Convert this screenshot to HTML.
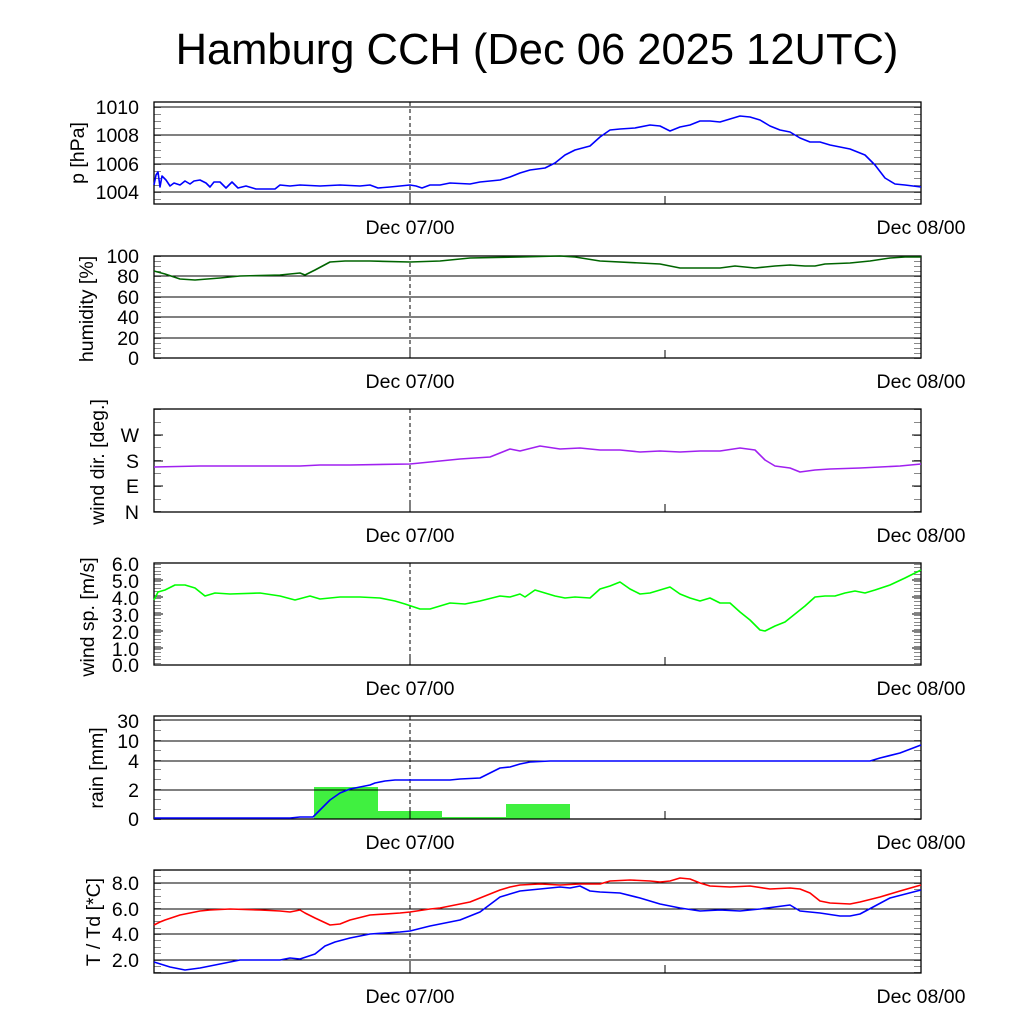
<!DOCTYPE html>
<html><head><meta charset="utf-8"><style>
html,body{margin:0;padding:0;background:#fff}
svg{display:block}
text{font-family:"Liberation Sans",sans-serif;fill:#000}
.yl{font-size:19.5px;text-anchor:end}
.xl{font-size:19.5px;text-anchor:middle}
.al{font-size:19.5px;text-anchor:middle}
.g{stroke:#000;stroke-width:1}
.f{fill:none;stroke:#000;stroke-width:1.3}
.d{stroke:#000;stroke-width:1;stroke-dasharray:4,3}
.s{fill:none;stroke-width:1.6;stroke-linejoin:round}
.m{stroke:#888;stroke-width:1}
</style></head><body>
<svg id="sv" width="1024" height="1024" viewBox="0 0 1024 1024" xmlns="http://www.w3.org/2000/svg">
<text x="537" y="64" font-size="43.5" text-anchor="middle">Hamburg CCH (Dec 06 2025 12UTC)</text>
<g id="minor"></g>

<!-- Panel 1 pressure -->
<g>
<line class="g" x1="154" x2="921" y1="107" y2="107"/>
<line class="g" x1="154" x2="921" y1="135" y2="135"/>
<line class="g" x1="154" x2="921" y1="164" y2="164"/>
<line class="g" x1="154" x2="921" y1="192" y2="192"/>
<line class="d" x1="410" x2="410" y1="102" y2="204"/>
<line class="g" x1="410" x2="410" y1="196" y2="204"/><line class="g" x1="665" x2="665" y1="196" y2="204"/>
<rect class="f" x="154" y="102" width="767" height="102"/>
<text class="yl" x="139" y="114">1010</text><text class="yl" x="139" y="142">1008</text><text class="yl" x="139" y="171">1006</text><text class="yl" x="139" y="199">1004</text>
<text class="al" transform="translate(84,153) rotate(-90)">p [hPa]</text>
<text class="xl" x="410" y="234">Dec 07/00</text><text class="xl" x="921" y="234">Dec 08/00</text>
<polyline class="s" stroke="#0000ff" points="154,185 156,175 158,172 160,187 162,176 166,180 170,186 174,183 180,185 185,181 190,184 194,181 200,180 206,183 210,187 214,182 220,182 226,188 232,182 238,188 246,186 256,189 266,189 275,189 280,185 290,186 300,185 320,186 340,185 360,186 370,185 378,188 390,187 400,186 410,185 416,186 422,188 430,185 440,185 450,183 470,184 480,182 490,181 500,180 510,177 520,173 530,170 545,168 555,163 565,155 575,150 590,146 600,137 610,130 620,129 635,128 650,125 660,126 670,131 680,127 690,125 700,121 710,121 720,122 730,119 740,116 750,117 760,120 770,126 780,130 790,132 800,138 810,142 820,142 830,145 850,149 865,155 875,165 885,178 895,184 905,185 921,187"/>
</g>

<!-- Panel 2 humidity -->
<g>
<line class="g" x1="154" x2="921" y1="276" y2="276"/>
<line class="g" x1="154" x2="921" y1="297" y2="297"/>
<line class="g" x1="154" x2="921" y1="317" y2="317"/>
<line class="g" x1="154" x2="921" y1="338" y2="338"/>
<line class="d" x1="410" x2="410" y1="256" y2="358"/>
<line class="g" x1="410" x2="410" y1="350" y2="358"/><line class="g" x1="665" x2="665" y1="350" y2="358"/>
<rect class="f" x="154" y="256" width="767" height="102"/>
<text class="yl" x="139" y="263">100</text><text class="yl" x="139" y="283">80</text><text class="yl" x="139" y="304">60</text><text class="yl" x="139" y="324">40</text><text class="yl" x="139" y="345">20</text><text class="yl" x="139" y="365">0</text>
<text class="al" transform="translate(93,309) rotate(-90)">humidity [%]</text>
<text class="xl" x="410" y="388">Dec 07/00</text><text class="xl" x="921" y="388">Dec 08/00</text>
<polyline class="s" stroke="#006400" points="154,271 165,274 180,279 195,280 220,278 240,276 280,275 300,273 305,275 315,270 330,262 345,261 370,261 410,262 440,261 450,260 470,258 520,257 560,256 575,257 600,261 640,263 660,264 680,268 700,268 720,268 735,266 755,268 765,267 775,266 790,265 805,266 815,266 825,264 850,263 870,261 890,258 905,257 921,257"/>
</g>

<!-- Panel 3 wind dir -->
<g>
<line class="d" x1="410" x2="410" y1="409" y2="512"/>
<line class="g" x1="410" x2="410" y1="504" y2="512"/><line class="g" x1="665" x2="665" y1="504" y2="512"/>
<line class="g" x1="154" x2="163" y1="435" y2="435"/><line class="g" x1="154" x2="163" y1="461" y2="461"/><line class="g" x1="154" x2="163" y1="486" y2="486"/>
<line class="g" x1="912" x2="921" y1="435" y2="435"/><line class="g" x1="912" x2="921" y1="461" y2="461"/><line class="g" x1="912" x2="921" y1="486" y2="486"/>
<rect class="f" x="154" y="409" width="767" height="103"/>
<text class="yl" x="139" y="442">W</text><text class="yl" x="139" y="468">S</text><text class="yl" x="139" y="493">E</text><text class="yl" x="139" y="519">N</text>
<text class="al" transform="translate(104,462) rotate(-90)">wind dir. [deg.]</text>
<text class="xl" x="410" y="542">Dec 07/00</text><text class="xl" x="921" y="542">Dec 08/00</text>
<polyline class="s" stroke="#a020f0" stroke-width="2" points="154,467 200,466 250,466 300,466 320,465 350,465 410,464 430,462 460,459 490,457 500,453 510,449 520,451 540,446 560,449 580,448 600,450 620,450 640,452 660,451 680,452 700,451 720,451 740,448 755,450 765,460 775,466 790,468 800,472 815,470 830,469 860,468 900,466 921,464"/>
</g>

<!-- Panel 4 wind speed -->
<g>
<line class="d" x1="410" x2="410" y1="563" y2="665"/>
<line class="g" x1="410" x2="410" y1="657" y2="665"/><line class="g" x1="665" x2="665" y1="657" y2="665"/>
<g class="g">
<line x1="154" x2="163" y1="580" y2="580"/><line x1="154" x2="163" y1="597" y2="597"/><line x1="154" x2="163" y1="614" y2="614"/><line x1="154" x2="163" y1="631" y2="631"/><line x1="154" x2="163" y1="648" y2="648"/>
<line x1="912" x2="921" y1="580" y2="580"/><line x1="912" x2="921" y1="597" y2="597"/><line x1="912" x2="921" y1="614" y2="614"/><line x1="912" x2="921" y1="631" y2="631"/><line x1="912" x2="921" y1="648" y2="648"/>
</g>
<rect class="f" x="154" y="563" width="767" height="102"/>
<text class="yl" x="139" y="571">6.0</text><text class="yl" x="139" y="588">5.0</text><text class="yl" x="139" y="605">4.0</text><text class="yl" x="139" y="622">3.0</text><text class="yl" x="139" y="639">2.0</text><text class="yl" x="139" y="656">1.0</text><text class="yl" x="139" y="672">0.0</text>
<text class="al" transform="translate(94,617) rotate(-90)">wind sp. [m/s]</text>
<text class="xl" x="410" y="695">Dec 07/00</text><text class="xl" x="921" y="695">Dec 08/00</text>
<polyline class="s" stroke="#00ff00" stroke-width="1.2" points="154,600 158,592 165,590 175,585 185,585 195,588 205,596 215,593 230,594 260,593 280,596 295,600 310,596 320,599 340,597 360,597 380,598 395,601 405,604 420,609 430,609 440,606 450,603 465,604 480,601 500,596 510,597 520,594 525,597 535,590 545,593 555,596 565,598 575,597 590,598 600,589 610,586 620,582 630,589 640,594 650,593 660,590 670,587 680,594 690,598 700,601 710,598 720,603 730,603 740,612 750,620 760,630 765,631 775,626 785,622 795,614 805,606 815,597 825,596 835,596 845,593 855,591 865,593 875,590 890,585 905,578 921,570"/>
</g>

<!-- Panel 5 rain -->
<g>
<rect x="314" y="787" width="64" height="32" fill="#40f040"/>
<rect x="378" y="811" width="64" height="8" fill="#40f040"/>
<rect x="442" y="817" width="64" height="2" fill="#40f040"/>
<rect x="506" y="804" width="64" height="15" fill="#40f040"/>
<line class="g" x1="154" x2="921" y1="720" y2="720"/>
<line class="g" x1="154" x2="921" y1="741" y2="741"/>
<line class="g" x1="154" x2="921" y1="761" y2="761"/>
<line class="g" x1="154" x2="921" y1="790" y2="790"/>
<line class="d" x1="410" x2="410" y1="716" y2="819"/>
<line class="g" x1="410" x2="410" y1="811" y2="819"/><line class="g" x1="665" x2="665" y1="811" y2="819"/>
<rect class="f" x="154" y="716" width="767" height="103"/>
<text class="yl" x="139" y="728">30</text><text class="yl" x="139" y="748">10</text><text class="yl" x="139" y="768">4</text><text class="yl" x="139" y="797">2</text><text class="yl" x="139" y="826">0</text>
<text class="al" transform="translate(103,768) rotate(-90)">rain [mm]</text>
<text class="xl" x="410" y="849">Dec 07/00</text><text class="xl" x="921" y="849">Dec 08/00</text>
<polyline class="s" stroke="#0000ff" stroke-width="1.3" points="154,818 290,818 300,817 313,817 320,810 330,800 340,793 350,789 360,787 370,785 375,783 385,781 395,780 450,780 460,779 480,778 490,773 500,768 510,767 520,764 530,762 550,761 600,761 870,761 880,758 900,753 921,745"/>
</g>

<!-- Panel 6 temperature -->
<g>
<line class="g" x1="154" x2="921" y1="883" y2="883"/>
<line class="g" x1="154" x2="921" y1="909" y2="909"/>
<line class="g" x1="154" x2="921" y1="934" y2="934"/>
<line class="g" x1="154" x2="921" y1="960" y2="960"/>
<line class="d" x1="410" x2="410" y1="870" y2="973"/>
<line class="g" x1="410" x2="410" y1="965" y2="973"/><line class="g" x1="665" x2="665" y1="965" y2="973"/>
<rect class="f" x="154" y="870" width="767" height="103"/>
<text class="yl" x="139" y="890">8.0</text><text class="yl" x="139" y="916">6.0</text><text class="yl" x="139" y="941">4.0</text><text class="yl" x="139" y="967">2.0</text>
<text class="al" transform="translate(100,922) rotate(-90)">T / Td [*C]</text>
<text class="xl" x="410" y="1003">Dec 07/00</text><text class="xl" x="921" y="1003">Dec 08/00</text>
<polyline class="s" stroke="#ff0000" stroke-width="1.2" points="154,925 160,922 165,920 180,915 200,911 210,910 230,909 260,910 280,911 290,912 300,910 305,913 315,918 330,925 340,924 350,920 370,915 400,913 410,912 430,909 440,908 460,904 470,902 490,894 500,890 510,887 520,885 540,884 560,885 580,884 600,884 610,881 630,880 650,881 660,882 670,881 680,878 690,879 700,883 710,886 730,887 750,886 770,889 790,888 800,889 810,893 820,901 830,903 850,904 860,902 880,897 900,891 921,885"/>
<polyline class="s" stroke="#0000ff" stroke-width="1.2" points="154,962 170,967 185,970 200,968 220,964 240,960 260,960 280,960 290,958 300,959 315,954 325,946 335,942 350,938 370,934 400,932 410,931 430,926 450,922 460,920 480,912 500,897 520,891 540,889 560,887 570,888 580,886 590,891 600,892 620,893 640,898 660,904 680,908 700,911 720,910 740,911 760,909 790,905 800,911 820,913 840,916 850,916 860,914 875,906 890,898 921,890"/>
</g>
<script>
(function(){
var g=document.getElementById('minor'),ns='http://www.w3.org/2000/svg';
function t(y){[[154,161],[914,921]].forEach(function(p){var l=document.createElementNS(ns,'line');l.setAttribute('class','m');l.setAttribute('x1',p[0]);l.setAttribute('x2',p[1]);l.setAttribute('y1',y);l.setAttribute('y2',y);g.appendChild(l);});}
function r(a,b,s){for(var y=a;y<=b+0.01;y+=s)t(Math.round(y)+0.5);}
r(107,204,7.1);r(256,358,5.1);r(409,512,12.8);r(564,665,3.4);r(720,819,9.9);r(870,973,6.4);
})();
</script>
</svg>
</body></html>
